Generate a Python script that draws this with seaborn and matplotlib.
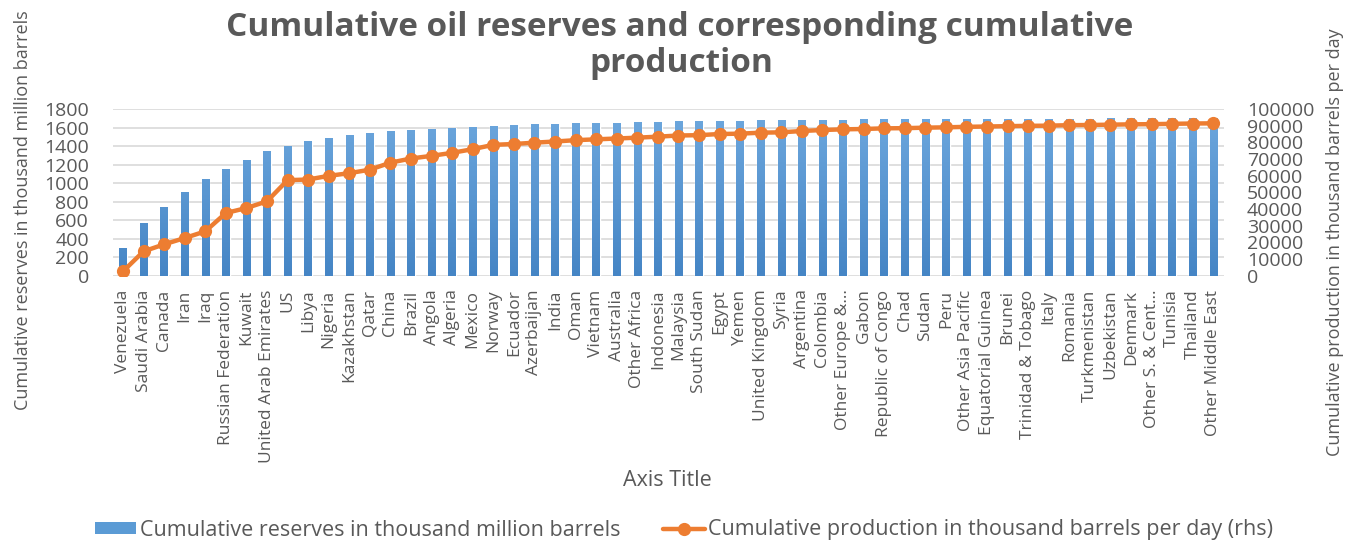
import numpy as np
import pandas as pd
import matplotlib
matplotlib.use("Agg")
import matplotlib.pyplot as plt
import seaborn as sns
from matplotlib.lines import Line2D
from matplotlib.patches import Patch
from matplotlib.colors import LinearSegmentedColormap

countries = ["Venezuela", "Saudi Arabia", "Canada", "Iran", "Iraq", "Russian Federation",
             "Kuwait", "United Arab Emirates", "US", "Libya", "Nigeria", "Kazakhstan",
             "Qatar", "China", "Brazil", "Angola", "Algeria", "Mexico", "Norway", "Ecuador",
             "Azerbaijan", "India", "Oman", "Vietnam", "Australia", "Other Africa",
             "Indonesia", "Malaysia", "South Sudan", "Egypt", "Yemen", "United Kingdom",
             "Syria", "Argentina", "Colombia", "Other Europe &...", "Gabon",
             "Republic of Congo", "Chad", "Sudan", "Peru", "Other Asia Pacific",
             "Equatorial Guinea", "Brunei", "Trinidad & Tobago", "Italy", "Romania",
             "Turkmenistan", "Uzbekistan", "Denmark", "Other S. & Cent...", "Tunisia",
             "Thailand", "Other Middle East"]

reserves = [300, 568, 740, 898, 1042, 1145, 1247, 1345, 1400, 1448, 1485, 1515,
            1540, 1565, 1575, 1586, 1596, 1607, 1618, 1626, 1633, 1638, 1643, 1647,
            1651, 1655, 1659, 1663, 1666, 1670, 1673, 1676, 1678, 1680, 1682, 1684,
            1686, 1687, 1688, 1689, 1690, 1691, 1692, 1693, 1694, 1694, 1695, 1695,
            1696, 1696, 1697, 1697, 1697, 1698]

production = [2600, 14600, 18800, 22600, 26600, 37600, 40600, 44600, 57300, 57700,
              59900, 61500, 63600, 67800, 70300, 71900, 73700, 75900, 78500, 79000,
              79800, 80500, 81300, 81800, 82300, 82800, 83400, 84100, 84300, 85000,
              85200, 85800, 86000, 86800, 87400, 87800, 88000, 88400, 88500, 88800,
              89000, 89300, 89500, 89700, 89900, 90000, 90300, 90400, 90600, 90800,
              90900, 91100, 91300, 91400]

left_ticks = list(range(0, 1801, 200))
right_ticks = list(range(0, 100001, 10000))

df = pd.DataFrame({"country": countries, "reserves": reserves, "production": production})

sns.set_theme(style="white")
plt.rcParams["font.family"] = ["Open Sans", "DejaVu Sans"]

grey = "#595959"
blue = "#5B9BD5"
orange = "#ED7D31"

fig = plt.figure(figsize=(13.47, 5.41), dpi=100)
ax = fig.add_axes([112.7 / 1347, 1 - 275.7 / 541, (1223.5 - 112.7) / 1347, (275.7 - 109) / 541])

sns.barplot(data=df, x="country", y="reserves", color=blue, width=0.36,
            saturation=1, ax=ax, zorder=2)

ymax_left = 1800
# vertical gradient fill on each bar (Excel style), drawn within each bar's own extent
grad_cmap = LinearSegmentedColormap.from_list("bluegrad", ["#4585C5", "#6EA8DE"])
for p in list(ax.patches):
    x0, w, h = p.get_x(), p.get_width(), p.get_height()
    frac = h / ymax_left
    grad = np.linspace(0, frac, 200).reshape(-1, 1)
    ax.imshow(grad, extent=[x0, x0 + w, 0, h], origin="lower", aspect="auto",
              cmap=grad_cmap, vmin=0, vmax=1, zorder=2.1, interpolation="bilinear")

ax.set_xlim(-0.5, len(countries) - 0.5)
ax.set_ylim(0, ymax_left)
ax.set_yticks(left_ticks)
ax.set_yticklabels([str(t) for t in left_ticks])
ax.grid(axis="y", color="#D9D9D9", linewidth=1.2, zorder=0)
ax.set_axisbelow(True)
for s in ax.spines.values():
    s.set_visible(False)
ax.tick_params(axis="y", length=0, pad=17, labelsize=14, labelcolor=grey)
ax.tick_params(axis="x", length=0, pad=10, labelsize=12.5, labelcolor=grey, rotation=90)
ax.set_xlabel("")
ax.set_ylabel("")

ax2 = ax.twinx()
sns.lineplot(data=df, x="country", y="production", sort=False, color=orange,
             linewidth=3.2, marker="o", markersize=9.5, markeredgewidth=0, ax=ax2, zorder=3)
ax2.set_ylim(0, 100000)
ax2.set_yticks(right_ticks)
ax2.set_yticklabels([str(t) for t in right_ticks])
for s in ax2.spines.values():
    s.set_visible(False)
ax2.tick_params(axis="y", length=0, pad=17, labelsize=14, labelcolor=grey)
ax2.set_ylabel("")
ax2.set_xlabel("")
ax2.set_xlim(-0.5, len(countries) - 0.5)

fig.text(680 / 1347, 1 - 36 / 541, "Cumulative oil reserves and corresponding cumulative",
         ha="center", va="baseline", fontsize=24, fontweight="bold", color=grey)
fig.text(681 / 1347, 1 - 72 / 541, "production",
         ha="center", va="baseline", fontsize=24, fontweight="bold", color=grey)

fig.text(23 / 1347, 1 - 210 / 541, "Cumulative reserves in thousand million barrels",
         rotation=90, ha="center", va="center", fontsize=13, color=grey)
fig.text(1335 / 1347, 1 - 242 / 541, "Cumulative production in thousand barrels per day",
         rotation=90, ha="center", va="center", fontsize=13, color=grey)
fig.text(667 / 1347, 1 - 481 / 541, "Axis Title", ha="center", va="center",
         fontsize=15.5, color=grey)

handles = [Patch(facecolor=blue, edgecolor="none"),
           Line2D([0], [0], color=orange, linewidth=3.2, marker="o", markersize=9.5,
                  markeredgewidth=0)]
labels = ["Cumulative reserves in thousand million barrels",
          "Cumulative production in thousand barrels per day (rhs)"]
fig.legend(handles, labels, loc="center", bbox_to_anchor=(684 / 1347, 1 - 530 / 541),
           ncol=2, frameon=False, fontsize=15.5, labelcolor=grey, handlelength=1.95,
           handletextpad=0.15, columnspacing=2.0, handleheight=0.46)

fig.savefig("out.png", dpi=100)
